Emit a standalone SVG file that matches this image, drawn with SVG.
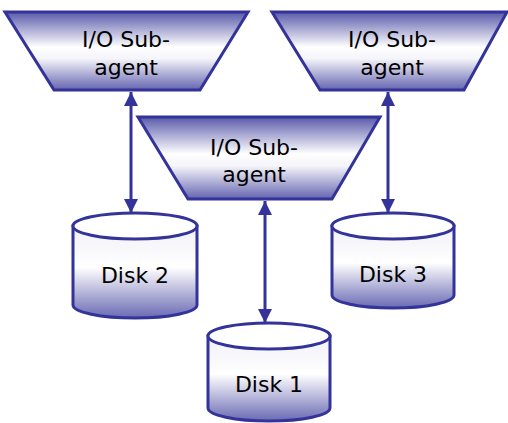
<svg xmlns="http://www.w3.org/2000/svg" width="508" height="423" viewBox="0 0 508 423">
<defs>
<linearGradient id="gT" x1="0" y1="0" x2="0" y2="1">
<stop offset="0" stop-color="#5a5aab"/>
<stop offset="0.45" stop-color="#ffffff"/>
<stop offset="0.6" stop-color="#f4f4fa"/>
<stop offset="1" stop-color="#6464b0"/>
</linearGradient>
<linearGradient id="gC" x1="0" y1="0" x2="0" y2="1">
<stop offset="0" stop-color="#f0f0f8"/>
<stop offset="0.45" stop-color="#ffffff"/>
<stop offset="1" stop-color="#6a6ab4"/>
</linearGradient>
<marker id="ah" viewBox="0 0 14 16" refX="14" refY="8" markerWidth="14" markerHeight="16" markerUnits="userSpaceOnUse" orient="auto-start-reverse">
<path d="M0,1 L14,8 L0,15 Z" fill="#333399"/>
</marker>
</defs>
<style>
.trap{fill:url(#gT);stroke:#333399;stroke-width:3;stroke-linejoin:miter}
.cyl{fill:url(#gC);stroke:#333399;stroke-width:3}
.top{fill:#ffffff;stroke:#333399;stroke-width:3}
.t{font-family:"DejaVu Sans",Verdana,sans-serif;font-size:22px;fill:#000;text-anchor:middle}
.c{stroke:#333399;stroke-width:3;fill:none;marker-start:url(#ah);marker-end:url(#ah)}
</style>
<g id="connectors">
<line class="c" x1="131" y1="92" x2="131" y2="213"/>
<line class="c" x1="265" y1="201" x2="265" y2="323"/>
<line class="c" x1="388" y1="92" x2="388" y2="213"/>
</g>
<g id="agent1">
<polygon class="trap" points="5,12 248,12 200,90 54,90"/>
<text class="t" x="126" y="47">I/O Sub-</text>
<text class="t" x="126" y="75">agent</text>
</g>
<g id="agent3">
<polygon class="trap" points="272,12 507,12 464,90 320,90"/>
<text class="t" x="392" y="47">I/O Sub-</text>
<text class="t" x="392" y="75">agent</text>
</g>
<g id="agent2">
<polygon class="trap" points="138,117 380,117 332,199 188,199"/>
<text class="t" x="254" y="155">I/O Sub-</text>
<text class="t" x="254" y="182">agent</text>
</g>
<g id="disk2">
<path class="cyl" d="M73,226 L73,305 A62,13 0 0 0 197,305 L197,226 Z"/>
<ellipse class="top" cx="135" cy="226" rx="62" ry="13"/>
<text class="t" x="135" y="283">Disk 2</text>
</g>
<g id="disk3">
<path class="cyl" d="M332,226 L332,295 A61,13 0 0 0 454,295 L454,226 Z"/>
<ellipse class="top" cx="393" cy="226" rx="61" ry="13"/>
<text class="t" x="393" y="282">Disk 3</text>
</g>
<g id="disk1">
<path class="cyl" d="M208,336 L208,408 A61,13 0 0 0 330,408 L330,336 Z"/>
<ellipse class="top" cx="269" cy="336" rx="61" ry="13"/>
<text class="t" x="269" y="392">Disk 1</text>
</g>
</svg>
